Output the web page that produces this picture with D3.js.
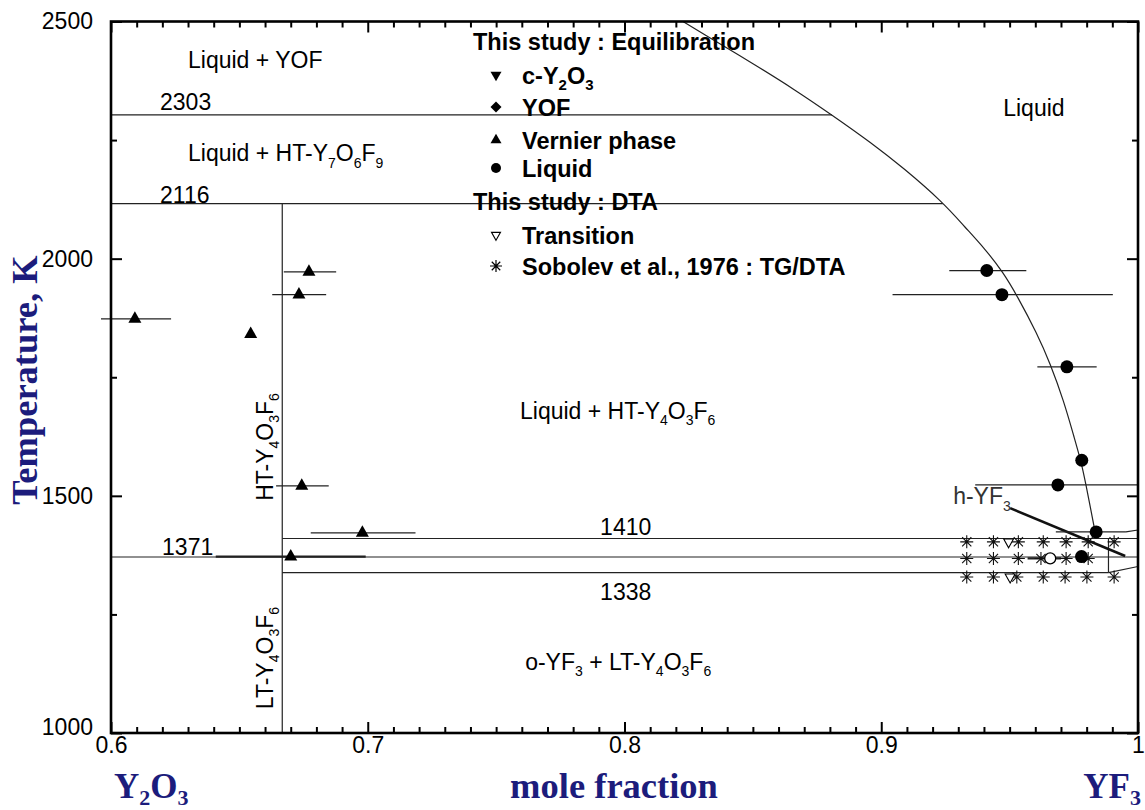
<!DOCTYPE html>
<html><head><meta charset="utf-8">
<script src="https://cdn.jsdelivr.net/npm/d3@7/dist/d3.min.js"></script>
<style>
body{margin:0;background:#fff;}
</style>
</head><body>
<svg id="chart" width="1145" height="810"></svg>
<script>
// ---------- data ----------
const xTickValues = [0.6, 0.7, 0.8, 0.9, 1.0];
const xTickLabels = ["0.6", "0.7", "0.8", "0.9", "1"];
const yTickValues = [1000, 1500, 2000, 2500];
const yTickLabels = ["1000", "1500", "2000", "2500"];
const yMinorValues = [1250, 1750, 2250];

// calculated liquidus (YF3-rich side)
const liquidusX = [0.8228,0.8294,0.8511,0.8664,0.8808,0.8962,0.9087,0.9240,0.9325,0.9405,0.9475,0.9529,0.9607,0.9658,0.9711,0.9752,0.9777,0.9794,0.9833];
const liquidusT = [2500,2478,2408,2356,2303,2244,2191,2119,2067,2020,1971,1922,1842,1779,1700,1622,1575,1533,1424];

// invariant / boundary lines: [x1, T1] -> [x2, T2]
const boundaryX1 = [0.6, 0.6, 0.6667, 0.6667, 0.6, 0.6667, 0.9885, 0.9885, 0.9953];
const boundaryT1 = [2303, 2116, 2116, 1410, 1371, 1338, 1410, 1338, 1424];
const boundaryX2 = [0.8808, 0.9240, 0.6667, 1.0, 1.0, 0.9885, 0.9885, 1.0, 1.0];
const boundaryT2 = [2303, 2116, 1000, 1410, 1371, 1338, 1338, 1351, 1428];

// h-YF3 boundary (thick)
const hYF3X = [0.9502, 0.9950];
const hYF3T = [1474, 1373];

// This study: Equilibration - Vernier phase
const vernierX = [0.6093, 0.6544, 0.6771, 0.6732, 0.6743, 0.6979, 0.6700];
const vernierT = [1873, 1841, 1972, 1924, 1521, 1422, 1372];
const vernierLo = [0.5961, null, 0.6673, 0.6628, 0.6643, 0.6778, 0.6408];
const vernierHi = [0.6234, null, 0.6877, 0.6838, 0.6848, 0.7186, 0.6992];

// This study: Equilibration - Liquid
const liquidX = [0.9411, 0.9470, 0.9723, 0.9781, 0.9688, 0.9837, 0.9780];
const liquidT = [1975, 1924, 1772, 1575, 1523, 1424, 1372];
const liquidLo = [0.9265, 0.9044, 0.9608, null, 0.9366, 0.9680, null];
const liquidHi = [0.9565, 0.9902, 0.9839, null, 1.0, 0.9953, null];

// open circle near 1371 K
const openCircleX = [0.9658];
const openCircleT = [1368];
const openCircleLo = [0.9570];
const openCircleHi = [0.9700];

// This study: DTA - Transition
const transitionX = [0.9496, 0.9502];
const transitionT = [1403, 1329];

// Sobolev et al., 1976 : TG/DTA
const sobolevX = [0.9333,0.9437,0.9534,0.9631,0.9720,0.9806,0.9907,
                  0.9333,0.9437,0.9534,0.9622,0.9720,0.9806,
                  0.9333,0.9437,0.9528,0.9631,0.9716,0.9801,0.9907];
const sobolevT = [1403,1403,1403,1403,1403,1403,1403,
                  1368,1368,1368,1368,1368,1368,
                  1329,1329,1329,1329,1329,1329,1329];

// region / temperature labels (segments: plain text or ["sub", text])
const labelX = [0.6300, 0.6191, 0.6300, 0.6191, 0.9475, 0.7593, 0.6199, 0.7905, 0.7905, 0.7613, 0.9280];
const labelT = [2403, 2314, 2205, 2117, 2300, 1663, 1376, 1418, 1281, 1133, 1482];
const labelSegs = [
  ["Liquid + YOF"],
  ["2303"],
  ["Liquid + HT-Y", ["sub","7"], "O", ["sub","6"], "F", ["sub","9"]],
  ["2116"],
  ["Liquid"],
  ["Liquid + HT-Y", ["sub","4"], "O", ["sub","3"], "F", ["sub","6"]],
  ["1371"],
  ["1410"],
  ["1338"],
  ["o-YF", ["sub","3"], " + LT-Y", ["sub","4"], "O", ["sub","3"], "F", ["sub","6"]],
  ["h-YF", ["sub","3"]]
];
// vertical labels along the Y4O3F6 composition
const vLabelX = [0.6630, 0.6630];
const vLabelT = [1603, 1158];
const vLabelSegs = [
  ["HT-Y", ["sub","4"], "O", ["sub","3"], "F", ["sub","6"]],
  ["LT-Y", ["sub","4"], "O", ["sub","3"], "F", ["sub","6"]]
];

// legend
const legendRows = [
  {type:"header", text:[ "This study : Equilibration" ]},
  {type:"tridown", text:["c-Y", ["sub","2"], "O", ["sub","3"]]},
  {type:"diamond", text:["YOF"]},
  {type:"triup", text:["Vernier phase"]},
  {type:"circle", text:["Liquid"]},
  {type:"header", text:["This study : DTA"]},
  {type:"opentri", text:["Transition"]},
  {type:"star", text:["Sobolev et al., 1976 : TG/DTA"]}
];

// ---------- drawing ----------
const sans = '"Liberation Sans",Arial,sans-serif';
const serif = '"Liberation Serif","Times New Roman",serif';
const navy = "#1c1c7c";

const svg = d3.select("#chart");
const L = 111, R = 1138, T = 21.5, B = 733;
const x = d3.scaleLinear().domain([0.6, 1.0]).range([L, R]);
const y = d3.scaleLinear().domain([1000, 2500]).range([B, T]);

svg.append("defs").append("clipPath").attr("id","plotclip")
  .append("rect").attr("x", L).attr("y", T).attr("width", R-L).attr("height", B-T);

function rich(sel, segs, size, bold, family, color, subFrac) {
  const t = sel.append("text").style("font-size", size + "px")
    .style("font-family", family || sans).style("fill", color || "#000");
  if (bold) t.style("font-weight", "bold");
  let shifted = false;
  const sub = Math.round(size*0.62), shift = size*(subFrac || 0.28);
  segs.forEach(s => {
    if (Array.isArray(s)) {
      t.append("tspan").style("font-size", sub + "px").attr("dy", shifted ? 0 : shift).text(s[1]);
      shifted = true;
    } else {
      t.append("tspan").attr("dy", shifted ? -shift : 0).text(s);
      shifted = false;
    }
  });
  return t;
}

// lines
const plot = svg.append("g").attr("clip-path","url(#plotclip)");
const lineGen = d3.line().x(d => x(d[0])).y(d => y(d[1]));

boundaryX1.forEach((_, i) => {
  plot.append("path")
    .attr("d", lineGen([[boundaryX1[i], boundaryT1[i]], [boundaryX2[i], boundaryT2[i]]]))
    .attr("stroke", "#222").attr("stroke-width", 1.2).attr("fill", "none");
});

plot.append("path")
  .attr("d", d3.line().x(d => x(d[0])).y(d => y(d[1])).curve(d3.curveBasis)(liquidusX.map((v,i)=>[v, liquidusT[i]])))
  .attr("stroke", "#222").attr("stroke-width", 1.2).attr("fill", "none");

plot.append("path")
  .attr("d", lineGen(hYF3X.map((v,i)=>[v, hYF3T[i]])))
  .attr("stroke", "#111").attr("stroke-width", 2.6).attr("fill", "none");

// error bars (not clipped: one extends left of the axis)
const errG = svg.append("g");
function errBars(xs, ts, lo, hi, widths) {
  xs.forEach((_, i) => {
    if (lo[i] == null) return;
    errG.append("line")
      .attr("x1", x(lo[i])).attr("x2", x(hi[i]))
      .attr("y1", y(ts[i])).attr("y2", y(ts[i]))
      .attr("stroke", "#222").attr("stroke-width", widths ? widths[i] : 1.3);
  });
}
errBars(vernierX, vernierT, vernierLo, vernierHi, [1.3,1.3,1.3,1.3,1.3,1.3,2.2]);
errBars(liquidX, liquidT, liquidLo, liquidHi);
errBars(openCircleX, openCircleT, openCircleLo, openCircleHi, [2.2]);

// marker shapes
function triUp(w, h) { return `M0,${-2*h/3}L${w/2},${h/3}L${-w/2},${h/3}Z`; }
function triDown(w, h) { return `M0,${2*h/3}L${w/2},${-h/3}L${-w/2},${-h/3}Z`; }
function diamond(s) { return `M0,${-s}L${s},0L0,${s}L${-s},0Z`; }
function star(r) {
  let p = "";
  for (let k = 0; k < 4; k++) {
    const a = k*Math.PI/4, dx = r*Math.cos(a), dy = r*Math.sin(a);
    p += `M${-dx},${-dy}L${dx},${dy}`;
  }
  return p;
}

const mk = svg.append("g");
sobolevX.forEach((v, i) => {
  mk.append("path").attr("transform", `translate(${x(v)},${y(sobolevT[i])})`)
    .attr("d", star(6.5)).attr("stroke", "#111").attr("stroke-width", 1.1).attr("fill", "none");
});
vernierX.forEach((v, i) => {
  mk.append("path").attr("transform", `translate(${x(v)},${y(vernierT[i])})`)
    .attr("d", triUp(13, 11.5)).attr("fill", "#000");
});
liquidX.forEach((v, i) => {
  mk.append("circle").attr("cx", x(v)).attr("cy", y(liquidT[i])).attr("r", 6.5).attr("fill", "#000");
});
openCircleX.forEach((v, i) => {
  mk.append("circle").attr("cx", x(v)).attr("cy", y(openCircleT[i])).attr("r", 5.5)
    .attr("fill", "#fff").attr("stroke", "#000").attr("stroke-width", 1.3);
});
transitionX.forEach((v, i) => {
  mk.append("path").attr("transform", `translate(${x(v)},${y(transitionT[i])})`)
    .attr("d", triDown(10, 9)).attr("fill", "#fff").attr("stroke", "#000").attr("stroke-width", 1.1);
});

// axes (ticks inward)
function styleAxis(g) {
  g.select(".domain").remove();
  g.selectAll(".tick line").attr("stroke", "#000").attr("stroke-width", 2);
  g.selectAll(".tick text").style("font-size", "23px").style("fill", "#000")
    .style("font-family", sans);
}
const xMinor = d3.range(61, 100).filter(v => v % 10 !== 0).map(v => v/100);

svg.append("g").attr("transform", `translate(0,${B})`)
  .call(d3.axisBottom(x).tickValues(xTickValues).tickSize(-11).tickPadding(4)
    .tickFormat((d,i) => xTickLabels[i])).call(styleAxis);
svg.append("g").attr("transform", `translate(0,${B})`)
  .call(d3.axisBottom(x).tickValues(xMinor).tickSize(-6).tickFormat("")).call(styleAxis);
svg.append("g").attr("transform", `translate(0,${T})`)
  .call(d3.axisTop(x).tickValues(xTickValues).tickSize(-11).tickFormat("")).call(styleAxis);
svg.append("g").attr("transform", `translate(0,${T})`)
  .call(d3.axisTop(x).tickValues(xMinor).tickSize(-6).tickFormat("")).call(styleAxis);
const yAx = svg.append("g").attr("transform", `translate(${L},0)`)
  .call(d3.axisLeft(y).tickValues(yTickValues).tickSize(-11).tickPadding(18)
    .tickFormat((d,i) => yTickLabels[i])).call(styleAxis);
// lowest label sits a little higher, clear of the x labels
yAx.selectAll(".tick text").filter(d => d === 1000).attr("dy", "0.05em");
svg.append("g").attr("transform", `translate(${L},0)`)
  .call(d3.axisLeft(y).tickValues(yMinorValues).tickSize(-6).tickFormat("")).call(styleAxis);
svg.append("g").attr("transform", `translate(${R},0)`)
  .call(d3.axisRight(y).tickValues(yTickValues).tickSize(-11).tickFormat("")).call(styleAxis);
svg.append("g").attr("transform", `translate(${R},0)`)
  .call(d3.axisRight(y).tickValues(yMinorValues).tickSize(-6).tickFormat("")).call(styleAxis);

svg.append("rect").attr("x", L).attr("y", T).attr("width", R-L).attr("height", B-T)
  .attr("fill", "none").attr("stroke", "#000").attr("stroke-width", 2.6);

// region labels
const lab = svg.append("g");
labelSegs.forEach((segs, i) => {
  rich(lab, segs, 23, false, sans, i === 10 ? "#333" : "#000")
    .attr("x", x(labelX[i])).attr("y", y(labelT[i]));
});
vLabelSegs.forEach((segs, i) => {
  rich(lab, segs, 23, false).attr("text-anchor", "middle")
    .attr("transform", `translate(${x(vLabelX[i])},${y(vLabelT[i])}) rotate(-90)`);
});

// legend
const lg = svg.append("g");
const lgY = [41, 75, 107, 140, 168, 201, 235, 266];
legendRows.forEach((r, i) => {
  const cy = lgY[i];
  if (r.type === "header") {
    rich(lg, r.text, 23.5, true).attr("x", 473).attr("y", cy + 8.5);
    return;
  }
  const g = lg.append("g").attr("transform", `translate(496,${cy})`);
  if (r.type === "tridown") g.append("path").attr("d", triDown(11, 9.5)).attr("fill", "#000");
  if (r.type === "diamond") g.append("path").attr("d", diamond(5.5)).attr("fill", "#000");
  if (r.type === "triup") g.append("path").attr("d", triUp(11, 9.5)).attr("fill", "#000");
  if (r.type === "circle") g.append("circle").attr("r", 5).attr("fill", "#000");
  if (r.type === "opentri") g.append("path").attr("d", triDown(9, 8)).attr("fill", "#fff").attr("stroke", "#000").attr("stroke-width", 1.1);
  if (r.type === "star") g.append("path").attr("d", star(6)).attr("stroke", "#000").attr("stroke-width", 1.2);
  rich(lg, r.text, 23.5, true).attr("x", 522).attr("y", cy + 8.5);
});

// axis titles
rich(svg, ["Temperature, K"], 36.5, true, serif, navy).attr("text-anchor", "middle")
  .attr("transform", `translate(37,380) rotate(-90)`);
rich(svg, ["mole fraction"], 36.5, true, serif, navy).attr("x", 614).attr("y", 798).attr("text-anchor", "middle");
rich(svg, ["Y", ["sub","2"], "O", ["sub","3"]], 35, true, serif, navy, 0.2).attr("x", 114).attr("y", 798);
rich(svg, ["YF", ["sub","3"]], 35, true, serif, navy, 0.2).attr("x", 1141).attr("y", 798).attr("text-anchor", "end");
</script>
</body></html>
